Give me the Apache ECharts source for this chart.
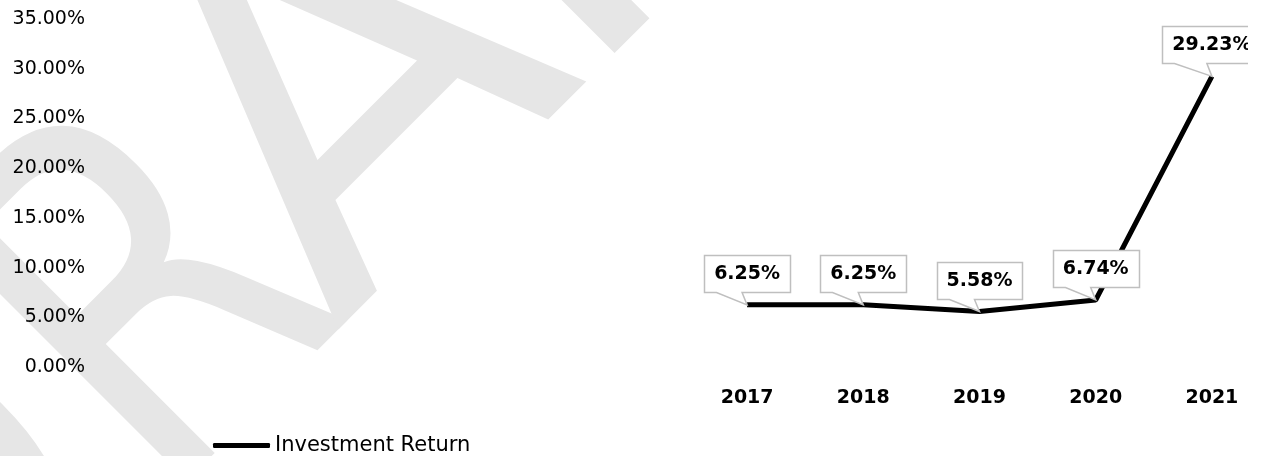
<!DOCTYPE html>
<html>
<head>
<meta charset="utf-8">
<script src="https://cdn.jsdelivr.net/npm/echarts@6/dist/echarts.min.js"></script>
<style>
  html, body { margin: 0; padding: 0; background: #fff; }
  #chart { width: 1270px; height: 456px; }
</style>
</head>
<body>
<div id="chart"></div>
<script>
// data
const years = ['2017', '2018', '2019', '2020', '2021']
const returns = [6.25, 6.25, 5.58, 6.74, 29.23]
const seriesName = 'Investment Return'

const FONT = '"DejaVu Sans", Verdana, sans-serif'
const labelFont = 'bold 19px ' + FONT

// measure label text for the callout boxes
const ctx = document.createElement('canvas').getContext('2d')
function textWidth(t) {
  ctx.font = labelFont
  return ctx.measureText(t).width
}

// DRAFT watermark, one letter at a time along a 45deg baseline (x + y = 665)
const wmLetters = [
  { ch: 'D', u: 23, sx: 1 },
  { ch: 'R', u: 362, sx: 0.8 },
  { ch: 'A', u: 652, sx: 1.05 },
  { ch: 'F', u: 962, sx: 1 },
  { ch: 'T', u: 1258, sx: 1 }
]
const k = Math.SQRT1_2
const vC = 128
const watermark = wmLetters.map(l => ({
  type: 'text',
  x: k * (l.u - vC),
  y: 665 - k * (l.u + vC),
  rotation: Math.PI / 4,
  scaleX: l.sx,
  z: -100,
  silent: true,
  style: {
    text: l.ch,
    font: '500px ' + FONT,
    fill: '#e6e6e6',
    align: 'center',
    verticalAlign: 'middle'
  }
}))

const chart = echarts.init(document.getElementById('chart'))

chart.setOption({
  animation: false,
  graphic: { elements: watermark },
  grid: {
    left: 689,
    right: 0,
    top: 19,
    bottom: 89,
    containLabel: false
  },
  legend: {
    data: [seriesName],
    left: 213,
    top: 435,
    padding: 0,
    icon: 'roundRect',
    itemWidth: 57,
    itemHeight: 5,
    textStyle: {
      fontFamily: FONT,
      fontSize: 21,
      color: '#000'
    }
  },
  xAxis: {
    type: 'category',
    data: years,
    axisLine: { show: false },
    axisTick: { show: false },
    axisLabel: {
      margin: 22,
      fontFamily: FONT,
      fontSize: 19,
      fontWeight: 'bold',
      color: '#000'
    }
  },
  yAxis: {
    type: 'value',
    min: 0,
    max: 35,
    interval: 5,
    splitLine: { show: false },
    axisLine: { show: false },
    axisTick: { show: false },
    axisLabel: {
      margin: 604,
      fontFamily: FONT,
      fontSize: 19,
      color: '#000',
      padding: [3, 0, 0, 0],
      formatter: v => v.toFixed(2) + '%'
    }
  },
  series: [{
    name: seriesName,
    type: 'line',
    data: returns,
    symbol: 'none',
    itemStyle: { color: '#000' },
    lineStyle: { color: '#000', width: 5 },
    z: 2
  }, {
    type: 'custom',
    data: returns.map((v, i) => [i, v]),
    z: 5,
    renderItem(params, api) {
      const p = api.coord([api.value(0), api.value(1)])
      const txt = api.value(1).toFixed(2) + '%'
      const w = textWidth(txt) + 20
      const h = 37
      const L = Math.round(p[0] - w / 2) + 0.5
      const R = Math.round(p[0] + w / 2) + 0.5
      const B = Math.round(p[1] - 13) + 0.5
      const T = B - h
      return {
        type: 'group',
        clipPath: {
          type: 'rect',
          shape: { x: 0, y: 0, width: api.getWidth() - 22, height: api.getHeight() }
        },
        children: [{
          type: 'polygon',
          shape: {
            points: [[L, T], [R, T], [R, B], [p[0] - 5, B], [p[0], p[1]], [L + 12, B], [L, B]]
          },
          style: { fill: '#fff', stroke: '#bfbfbf', lineWidth: 1.5 }
        }, {
          type: 'text',
          style: {
            text: txt,
            x: p[0],
            y: (T + B) / 2,
            align: 'center',
            verticalAlign: 'middle',
            font: labelFont,
            fill: '#000'
          }
        }]
      }
    }
  }]
})
</script>
</body>
</html>
